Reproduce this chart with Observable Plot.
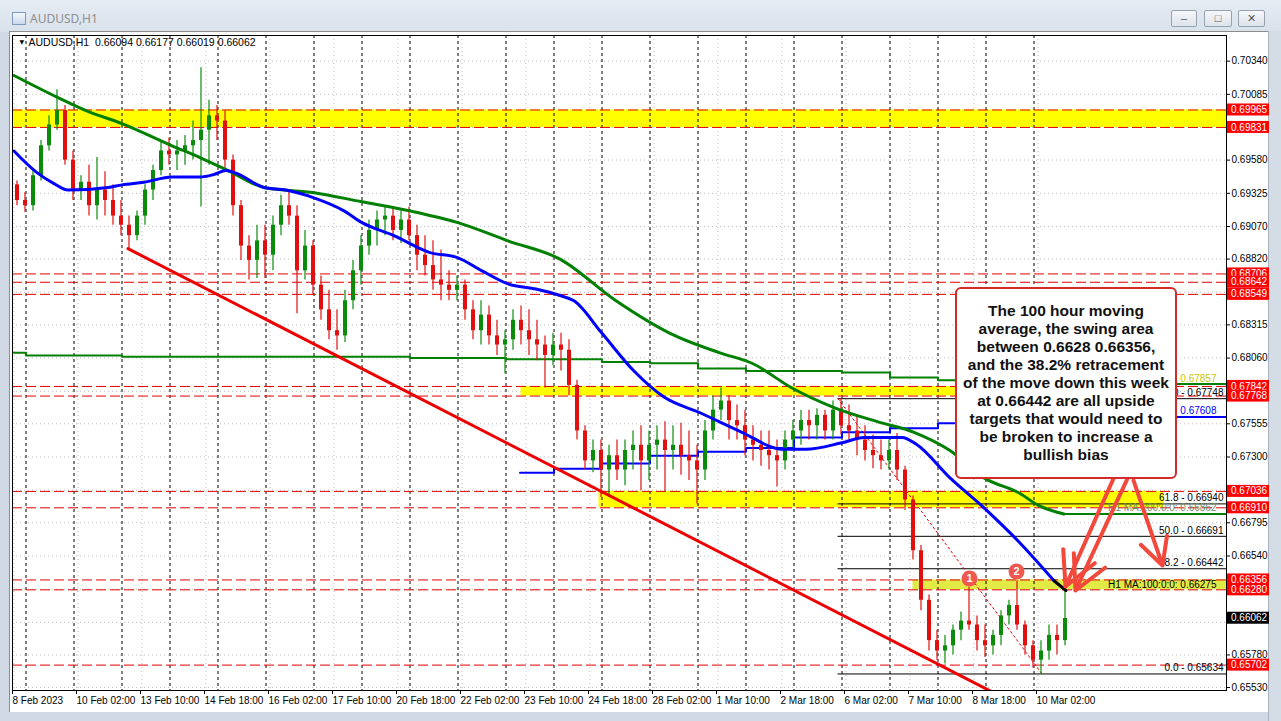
<!DOCTYPE html>
<html><head><meta charset="utf-8">
<script src="https://cdn.jsdelivr.net/npm/d3@7"></script>
<script src="https://cdn.jsdelivr.net/npm/@observablehq/plot@0.6"></script>
<style>
html,body{margin:0;padding:0;}
body{width:1281px;height:721px;overflow:hidden;position:relative;background:#cfd8e3;font-family:"Liberation Sans",Arial,sans-serif;}
#titlebar{position:absolute;left:0;top:0;width:1281px;height:32px;background:linear-gradient(#e6ecf4,#d9e1eb);}
#ticon{position:absolute;left:12px;top:12px;width:14px;height:13px;border:1px solid #7d9ac0;background:linear-gradient(#f4f8fc,#c9d9ec);box-sizing:border-box;}
#ttext{position:absolute;left:30px;top:10px;font-family:"Noto Sans",sans-serif;font-size:12px;color:#8f8f8f;}
.btn{position:absolute;top:10px;height:17px;border:1px solid #98a2ae;border-radius:2px;background:linear-gradient(#f6f8fa,#dde3ea);box-sizing:border-box;color:#555;font-size:11px;text-align:center;line-height:15px;}
#client{position:absolute;left:9px;top:31px;width:1259px;height:681px;background:#fff;border-left:1px solid #8c8c8c;border-top:1px solid #8c8c8c;box-sizing:border-box;}
#rightstrip{position:absolute;left:1268px;top:31px;width:13px;height:690px;background:#d4dce6;border-left:1px solid #a9b3bf;box-sizing:border-box;}
#chart{position:absolute;left:0;top:0;}
#note{position:absolute;left:955px;top:287px;width:222px;height:192px;box-sizing:border-box;border:2px solid #d42a2a;border-radius:6px;background:#fff;
 font-family:"Liberation Sans",Arial,sans-serif;font-weight:bold;font-size:15.5px;line-height:18px;text-align:center;color:#111;padding-top:13px;}
</style></head>
<body>
<div id="titlebar"></div>
<div id="ticon"></div>
<div id="ttext">AUDUSD,H1</div>
<div class="btn" style="left:1171px;width:26px;">&#8211;</div>
<div class="btn" style="left:1204px;width:28px;">&#9633;</div>
<div class="btn" style="left:1238px;width:27px;">&#10005;</div>
<div id="client"></div>
<div id="rightstrip"></div>
<div id="chart"></div>
<div id="note">The 100 hour moving<br>average, the swing area<br>between 0.6628 0.66356,<br>and the 38.2% retracement<br>of the move down this week<br>at 0.66442 are all upside<br>targets that would need to<br>be broken to increase a<br>bullish bias</div>
<script>
// ---------- 4-hour candles, bar index i = hours since 8 Feb 18:00 ----------
const candleOpen = [
.6939,.6927,.6923,.6946,.6969,.6985,.6996,.6958,.6935,.6941,
.6923,.6935,.6927,.6915,.6908,.6900,.6915,.6935,.6950,.6965,
.6962,.6965,.6969,.6973,.6981,.6992,.6988,.6958,.6923,.6892,
.6881,.6896,.6885,.6908,.6923,.6915,.6873,.6892,.6862,.6843,
.6827,.6823,.6850,.6873,.6892,.6904,.6912,.6915,.6904,.6912,
.6900,.6885,.6877,.6866,.6862,.6858,.6862,.6843,.6827,.6839,
.6823,.6816,.6820,.6835,.6827,.6820,.6816,.6808,.6816,.6812,
.6785,.6750,.6727,.6735,.6720,.6731,.6720,.6735,.6739,.6727,
.6739,.6743,.6735,.6739,.6731,.6727,.6720,.6750,.6766,.6773,
.6758,.6754,.6743,.6739,.6735,.6731,.6727,.6743,.6750,.6758,
.6754,.6762,.6750,.6766,.6754,.6750,.6743,.6735,.6731,.6727,
.6735,.6720,.6697,.6658,.6620,.6589,.6581,.6585,.6597,.6604,
.6601,.6589,.6585,.6593,.6608,.6616,.6601,.6585,.6574,.6581,
.6593,.6589];
const candleHigh = [
.6942,.6933,.6950,.6973,.6992,.7012,.7000,.6965,.6946,.6954,
.6960,.6949,.6939,.6927,.6915,.6919,.6939,.6954,.6973,.6975,
.6973,.6977,.6988,.7029,.7004,.7000,.6996,.6962,.6927,.6900,
.6908,.6908,.6915,.6931,.6935,.6923,.6904,.6896,.6869,.6858,
.6843,.6858,.6881,.6900,.6912,.6919,.6922,.6921,.6919,.6922,
.6908,.6900,.6896,.6889,.6873,.6869,.6866,.6850,.6850,.6846,
.6835,.6827,.6843,.6846,.6843,.6835,.6823,.6825,.6825,.6820,
.6789,.6754,.6743,.6743,.6739,.6743,.6743,.6750,.6754,.6750,
.6754,.6757,.6754,.6756,.6750,.6739,.6758,.6777,.6783,.6777,
.6770,.6766,.6754,.6750,.6750,.6743,.6750,.6758,.6766,.6766,
.6767,.6766,.6773,.6775,.6770,.6762,.6754,.6747,.6743,.6743,
.6748,.6723,.6700,.6662,.6624,.6597,.6593,.6601,.6611,.6630,
.6608,.6601,.6597,.6612,.6620,.6635,.6604,.6589,.6589,.6601,
.6601,.6629];
const candleLow = [
.6923,.6918,.6919,.6942,.6965,.6981,.6954,.6927,.6927,.6915,
.6912,.6915,.6908,.6900,.6890,.6896,.6908,.6927,.6946,.6954,
.6950,.6954,.6958,.6922,.6954,.6973,.6950,.6915,.6881,.6866,
.6867,.6867,.6873,.6900,.6908,.6840,.6866,.6854,.6835,.6820,
.6812,.6818,.6843,.6862,.6885,.6892,.6900,.6896,.6894,.6896,
.6873,.6869,.6858,.6850,.6850,.6850,.6835,.6820,.6816,.6816,
.6808,.6794,.6812,.6816,.6808,.6804,.6783,.6800,.6796,.6777,
.6743,.6720,.6718,.6699,.6699,.6712,.6708,.6720,.6704,.6712,
.6720,.6703,.6720,.6716,.6712,.6694,.6712,.6743,.6758,.6743,
.6743,.6731,.6727,.6723,.6720,.6707,.6720,.6735,.6739,.6743,
.6743,.6743,.6743,.6747,.6743,.6731,.6727,.6721,.6720,.6720,
.6712,.6689,.6651,.6612,.6581,.6574,.6571,.6578,.6589,.6597,
.6581,.6576,.6578,.6585,.6601,.6597,.6578,.6568,.6563,.6574,
.6578,.6585];
const candleClose = [
.6927,.6923,.6946,.6969,.6985,.6996,.6958,.6935,.6941,.6923,
.6935,.6927,.6915,.6908,.6900,.6915,.6935,.6950,.6965,.6962,
.6965,.6969,.6973,.6981,.6992,.6988,.6958,.6923,.6892,.6881,
.6896,.6885,.6908,.6923,.6915,.6873,.6892,.6862,.6843,.6827,
.6823,.6850,.6873,.6892,.6904,.6912,.6915,.6904,.6912,.6900,
.6885,.6877,.6866,.6862,.6858,.6862,.6843,.6827,.6839,.6823,
.6816,.6820,.6835,.6827,.6820,.6816,.6808,.6816,.6812,.6785,
.6750,.6727,.6735,.6720,.6731,.6720,.6735,.6739,.6727,.6739,
.6743,.6735,.6739,.6731,.6727,.6720,.6750,.6766,.6773,.6758,
.6754,.6743,.6739,.6735,.6731,.6727,.6743,.6750,.6758,.6754,
.6762,.6750,.6766,.6754,.6750,.6743,.6735,.6731,.6727,.6735,
.6720,.6697,.6658,.6620,.6589,.6581,.6585,.6597,.6604,.6601,
.6589,.6585,.6593,.6608,.6616,.6601,.6585,.6574,.6581,.6593,
.6589,.6606];

// ---------- moving averages (bar index, price) ----------
const ma100Idx = [0,11,20,27,47,54,65,79,93,100,106,111,125,136,150,165,174,190,208,222,234,247,261,273,280,294,310,325,343,364,384,396,414,425,444,451,468,485,503,520];
const ma100Val = [.6965,.6949,.6940,.6935,.6937,.6939,.6941,.6945,.6945,.6947,.6950,.6948,.6937,.6935,.6929,.6919,.6910,.6900,.6887,.6883,.6873,.6863,.6859,.6854,.6850,.6825,.6796,.6776,.6764,.6749,.6736,.6736,.6741,.6745,.6745,.6740,.6714,.6691,.6664,.6635];
const ma100TailIdx = [520,526];
const ma100TailVal = [.6635,.66275];
const ma200Idx = [0,22,36,54,79,93,107,125,150,174,198,222,247,273,301,328,353,369,389,410,432,450,468,485,503,512,525];
const ma200Val = [.7023,.7006,.6996,.6986,.6969,.6960,.6950,.6937,.6933,.6926,.6919,.6910,.6896,.6882,.6850,.6825,.6810,.6802,.6783,.6768,.6757,.6749,.6735,.6714,.6702,.6693,.66862];
const d1GreenIdx = [0,6,54,198,246,294,318,342,366,414,438,462,486,510,606];
const d1GreenVal = [.6810,.6808,.6807,.6806,.6805,.6803,.6802,.6798,.6796,.6795,.6791,.6789,.6786,.6786,.6786];
const d1BlueIdx = [253,270,294,318,342,366,390,414,438,462,486,510,606];
const d1BlueVal = [.6718,.6721,.6725,.6731,.6734,.6737,.6745,.6749,.6752,.6756,.6759,.67608,.67608];

// ---------- levels ----------
const redLevels = [0.69965,0.69831,0.68706,0.68642,0.68549,0.67842,0.67768,0.67036,0.66910,0.66356,0.66280,0.65702];
const currentPrice = 0.66062;
const bandLow  = [0.69831,0.67768,0.66910,0.66280];
const bandHigh = [0.69965,0.67842,0.67036,0.66356];
const bandFrom = [-1,253.5,292.5,449.5];
const bandTo   = [607,575,575,607];
const bandColor= ["#ffff00","#ffff00","#ffff00","#e2eb45"];
const fibLevels = [0.67748,0.66940,0.66691,0.66442,0.65634];
const fibText   = ["0 - 0.67748","61.8 - 0.66940","50.0 - 0.66691","38.2 - 0.66442","0.0 - 0.65634"];
const fibStart = 412, fibEnd = 606.25;
const fibDiagIdx = [412,514], fibDiagVal = [0.67748,0.65634];
const trendIdx = [57,500], trendVal = [0.6890,0.6541];
const maLabelText = ["H1 MA:200:0:0: 0.66862","H1 MA:100:0:0: 0.66275",":0: 0.67608",": 0.67857"];
const maLabelVal  = [0.66862,0.66275,0.67608,0.67857];
const maLabelColor= ["#6f8f6f","#000000","#0000ff","#c9c400"];
const markIdx = [477.75,501.25], markVal = [0.66367,0.66421], markText = ["1","2"];
const arrowFromIdx = [549.75,556.75,559.75], arrowFromVal = [0.67135,0.67135,0.67120];
const arrowToIdx   = [525.75,530.75,574.25], arrowToVal   = [0.66306,0.66275,0.66467];

// ---------- axes ----------
const xTickIdx = [0,32,64,96,128,160,192,224,256,288,320,352,384,416,448,480,512];
const xTickText = ["8 Feb 2023","10 Feb 02:00","13 Feb 10:00","14 Feb 18:00","16 Feb 02:00","17 Feb 10:00","20 Feb 18:00","22 Feb 02:00","23 Feb 10:00","24 Feb 18:00","28 Feb 02:00","1 Mar 10:00","2 Mar 18:00","6 Mar 02:00","7 Mar 10:00","8 Mar 18:00","10 Mar 02:00"];
const daySep = [6,30,54,78,102,126,150,174,198,222,246,270,294,318,342,366,390,414,438,462,486,510];
const yTickVals = [0.70340,0.70085,0.69580,0.69325,0.69070,0.68820,0.68315,0.68060,0.67555,0.67300,0.66795,0.66540,0.65780,0.65530];
const yGridVals = [0.70340,0.70085,0.69830,0.69580,0.69325,0.69070,0.68820,0.68565,0.68315,0.68060,0.67805,0.67555,0.67300,0.67045,0.66795,0.66540,0.66285,0.66030,0.65780,0.65530];
const header = "AUDUSD,H1  0.66094 0.66177 0.66019 0.66062";

// ---------- build tables ----------
const candles = candleOpen.map((o,g)=>({i:4*g+1.5, o, h:candleHigh[g], l:candleLow[g], c:candleClose[g]}));
const UP="#0a8c0a", DN="#e01010";
const pts = (I,V)=>I.map((i,k)=>({i, p:V[k]}));
const bands = bandLow.map((p1,k)=>({p1, p2:bandHigh[k], i1:bandFrom[k], i2:bandTo[k], color:bandColor[k]}));
const fibs = fibLevels.map((p,k)=>({p, t:fibText[k]}));
const maLabels = maLabelText.map((t,k)=>({t, p:maLabelVal[k], c:maLabelColor[k]}));
const marks = markIdx.map((i,k)=>({i, p:markVal[k], t:markText[k]}));
const arrows = arrowFromIdx.map((i1,k)=>({i1, p1:arrowFromVal[k], i2:arrowToIdx[k], p2:arrowToVal[k]}));
const FONT = "Liberation Sans, Arial, sans-serif";

function priceTags(levels, bg) {
  return Plot.dot(levels, {y: d=>d, r: 0, render(index, scales, values, dims) {
    const g = d3.create("svg:g");
    const x0 = dims.width - dims.marginRight;
    for (const k of index) {
      const yy = scales.y(levels[k]);
      g.append("rect").attr("x", x0+1).attr("y", yy-6).attr("width", 42).attr("height", 12).attr("fill", bg);
      g.append("text").attr("x", x0+5).attr("y", yy).attr("dy","0.36em").attr("fill","#fff")
        .attr("text-anchor","start").attr("font-size",10).attr("font-family",FONT).text(levels[k].toFixed(5));
    }
    return g.node();
  }});
}

const chart = Plot.plot({
  width: 1281, height: 721,
  marginLeft: 12, marginRight: 55, marginTop: 35, marginBottom: 31,
  style: {background:"transparent", overflow:"visible", fontFamily: FONT, fontSize:"10px", color:"#000"},
  x: {type:"linear", domain:[-0.75, 606.25], axis:null},
  y: {type:"linear", domain:[0.65507, 0.70537], axis:null},
  marks: [
    Plot.gridY(yGridVals, {stroke:"#bdbdbd", strokeOpacity:1, strokeDasharray:"1,3"}),
    Plot.gridX(xTickIdx, {stroke:"#bdbdbd", strokeOpacity:1, strokeDasharray:"1,3"}),
    Plot.rect(bands, {x1:"i1", x2:"i2", y1:"p1", y2:"p2", fill:"color", clip:true}),
    Plot.ruleX(daySep, {stroke:"#000", strokeDasharray:"3,3", strokeWidth:1}),
    Plot.ruleY(redLevels, {stroke:"#e00000", strokeDasharray:"10,4", strokeWidth:1}),
    Plot.ruleY(fibLevels, {x1: fibStart, x2: fibEnd, stroke:"#000", strokeWidth:1}),
    Plot.line(pts(fibDiagIdx, fibDiagVal), {x:"i", y:"p", stroke:"#e00000", strokeWidth:1, strokeDasharray:"2,3"}),
    Plot.line(pts(d1GreenIdx, d1GreenVal), {x:"i", y:"p", stroke:"#008000", strokeWidth:2, curve:"step-after", clip:true}),
    Plot.line(pts(d1BlueIdx, d1BlueVal), {x:"i", y:"p", stroke:"#0000ff", strokeWidth:2, curve:"step-after", clip:true}),
    Plot.ruleX(candles, {x:"i", y1:"l", y2:"h", stroke: d=> d.c>=d.o?UP:DN, strokeWidth:1.2}),
    Plot.ruleX(candles, {x:"i", y1:"o", y2:"c", stroke: d=> d.c>=d.o?UP:DN, strokeWidth:4}),
    Plot.line(pts(ma200Idx, ma200Val), {x:"i", y:"p", stroke:"#008000", strokeWidth:3, curve:"monotone-x"}),
    Plot.ruleY([maLabelVal[0]], {x1: 525, x2: fibEnd, stroke:"#008000", strokeWidth:2}),
    Plot.line(pts(ma100Idx, ma100Val), {x:"i", y:"p", stroke:"#0000ff", strokeWidth:3, curve:"monotone-x"}),
    Plot.line(pts(ma100TailIdx, ma100TailVal), {x:"i", y:"p", stroke:"#000", strokeWidth:3}),
    Plot.line(pts(trendIdx, trendVal), {x:"i", y:"p", stroke:"#ee0000", strokeWidth:3, clip:true}),
    Plot.text(fibs, {y:"p", text:"t", frameAnchor:"right", textAnchor:"end", dx:-3, dy:-6, fill:"#000", fontSize:10}),
    Plot.text(maLabels, {y:"p", text:"t", frameAnchor:"right", textAnchor:"end", dx:-10, dy:-6, fill:"c", fontSize:10}),
    Plot.arrow(arrows, {x1:"i1", y1:"p1", x2:"i2", y2:"p2", stroke:"#f2493c", strokeWidth:4, headLength:14, headAngle:55}),
    Plot.dot(marks, {x:"i", y:"p", r:8, fill:"#f0574f", stroke:"none"}),
    Plot.text(marks, {x:"i", y:"p", text:"t", fill:"#fff", fontSize:11, fontWeight:"bold"}),
    Plot.frame({stroke:"#000", strokeWidth:1}),
    Plot.axisY(yTickVals, {anchor:"right", tickFormat: d=>d.toFixed(5), tickSize:3, tickPadding:2, fontSize:10}),
    Plot.axisX(xTickIdx, {anchor:"bottom", tickFormat:(d,k)=>xTickText[k], tickSize:4, tickPadding:2, textAnchor:"start", dx:-1.5, fontSize:10}),
    priceTags(redLevels, "#ff0000"),
    priceTags([currentPrice], "#000000"),
    Plot.text([header], {frameAnchor:"top-left", dx:16, dy:7, textAnchor:"start", lineAnchor:"middle", fill:"#000", fontSize:10.5}),
    Plot.text(["\u25BC"], {frameAnchor:"top-left", dx:7, dy:7, lineAnchor:"middle", fontSize:6, fill:"#000", fontFamily:"DejaVu Sans"})
  ]
});
document.getElementById("chart").appendChild(chart);
</script>
</body></html>
